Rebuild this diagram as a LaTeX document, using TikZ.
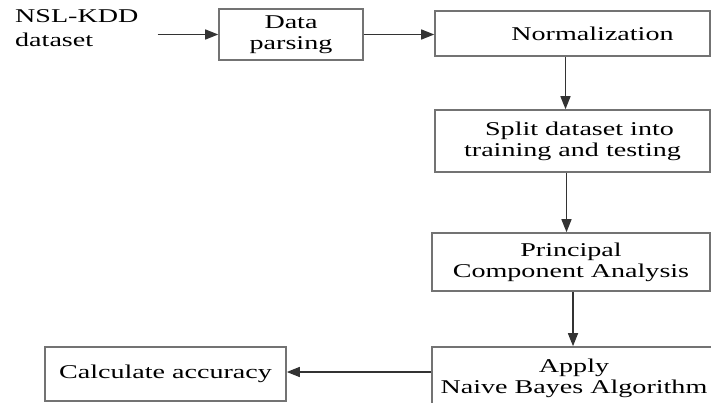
\documentclass[tikz,border=0pt]{standalone}
\usepackage{fontspec}
\setmainfont{Liberation Serif}[FakeStretch=1.44]
\usetikzlibrary{arrows.meta}

\tikzset{
  flowbox/.style={draw=black!55, line width=1.6pt, rectangle, inner sep=0pt, align=center,
    font=\fontsize{19.5}{21}\selectfont, text=black},
  flowarrow/.style={draw=black!80, line width=1.5pt, -{Triangle[length=13pt,width=10pt]}}
}

\begin{document}
\begin{tikzpicture}[x=1pt,y=1pt,yscale=-1,xscale=1]
  \useasboundingbox (0,0) rectangle (711,403);
  \clip (0,0) rectangle (711,403);

  % Text Node
  \node (nsl) [anchor=west, inner sep=0pt, align=left, font=\fontsize{19.5}{24}\selectfont, text=black] at (15,28) {NSL-KDD\\dataset};
  %Shape: Rectangle
  \node (datap) [flowbox, minimum width=144, minimum height=51] at (291,34.5) {Data\\parsing};
  %Shape: Rectangle
  \node (norm) [flowbox, minimum width=275, minimum height=45] at (572.5,33.5) {\hspace*{40pt}Normalization};
  %Shape: Rectangle
  \node (split) [flowbox, minimum width=275, minimum height=62] at (572.5,141) {\hspace*{14pt}Split dataset into\\training and testing};
  %Shape: Rectangle
  \node (pca) [flowbox, minimum width=278, minimum height=58] at (571,262) {Principal\\Component Analysis};
  %Shape: Rectangle
  \node (bayes) [flowbox, minimum width=284, minimum height=62] at (574,378) {Apply\\Naive Bayes Algorithm};
  %Shape: Rectangle
  \node (acc) [flowbox, minimum width=241, minimum height=54] at (165.5,374) {Calculate accuracy};

  %Straight Lines
  \draw [flowarrow, shorten <=19pt] (nsl.east |- datap.west) -- (datap.west);
  \draw [flowarrow] (datap.east) -- (norm.west |- datap.east);
  \draw [flowarrow] ([xshift=-7pt]norm.south) -- ([xshift=-7pt]norm.south |- split.north);
  \draw [flowarrow] ([xshift=-6pt]split.south) -- ([xshift=-6pt]split.south |- pca.north);
  \draw [flowarrow] ([xshift=2pt]pca.south) -- ([xshift=2pt]pca.south |- bayes.north);
  \draw [flowarrow] ([yshift=-6pt]bayes.west) -- ([yshift=-6pt]bayes.west -| acc.east);
\end{tikzpicture}
\end{document}
